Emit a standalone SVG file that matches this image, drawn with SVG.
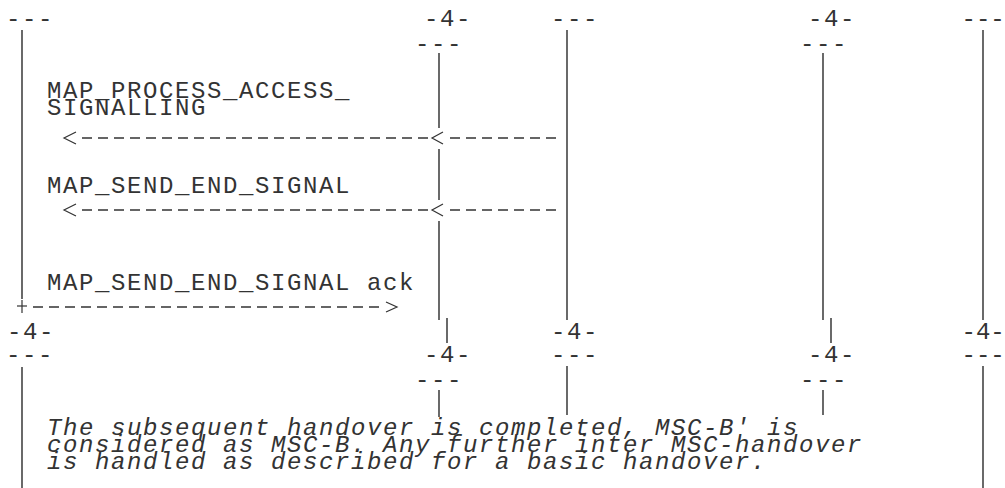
<svg xmlns="http://www.w3.org/2000/svg" width="1005" height="488" viewBox="0 0 1005 488">
<style>
.t{font-family:"Liberation Mono","DejaVu Sans Mono",monospace;font-size:24px;letter-spacing:1.6px;fill:#333333}
.e{letter-spacing:0}
.i{font-style:italic}
.ll{stroke:#2a2a2a;stroke-width:1.4;fill:none}
.dash{stroke:#333333;stroke-width:1.3;stroke-dasharray:10 6;fill:none}
.head{stroke:#333333;stroke-width:1.2;fill:none}
</style>
<rect width="1005" height="488" fill="#ffffff"/>
<g id="col1">
<text class="t" x="6" y="26">---</text>
<line class="ll" x1="22" y1="30" x2="22" y2="299"/>
<text class="t" x="7" y="339">-4-</text>
<text class="t" x="6" y="362">---</text>
<line class="ll" x1="22" y1="367" x2="22" y2="488"/>
</g>
<g id="col2">
<text class="t" x="424" y="26">-4-</text>
<text class="t" x="415" y="51">---</text>
<line class="ll" x1="439" y1="53" x2="439" y2="128"/>
<line class="ll" x1="439" y1="149" x2="439" y2="200"/>
<line class="ll" x1="439" y1="221" x2="439" y2="320"/>
<line class="ll" x1="447" y1="318" x2="447" y2="343"/>
<text class="t" x="424" y="362">-4-</text>
<text class="t" x="415" y="387">---</text>
<line class="ll" x1="439" y1="390" x2="439" y2="417"/>
</g>
<g id="col3">
<text class="t" x="551" y="26">---</text>
<line class="ll" x1="567" y1="30" x2="567" y2="320"/>
<text class="t" x="551" y="339">-4-</text>
<text class="t" x="551" y="362">---</text>
<line class="ll" x1="567" y1="366" x2="567" y2="415"/>
</g>
<g id="col4">
<text class="t" x="808" y="26">-4-</text>
<text class="t" x="800" y="51">---</text>
<line class="ll" x1="823" y1="53" x2="823" y2="320"/>
<line class="ll" x1="831" y1="318" x2="831" y2="343"/>
<text class="t" x="808" y="362">-4-</text>
<text class="t" x="800" y="387">---</text>
<line class="ll" x1="823" y1="390" x2="823" y2="415"/>
</g>
<g id="col5">
<text class="t e" x="961.5" y="26">---</text>
<line class="ll" x1="983" y1="30" x2="983" y2="320"/>
<text class="t e" x="961.5" y="339">-4-</text>
<text class="t e" x="961.5" y="362">---</text>
<line class="ll" x1="983" y1="366" x2="983" y2="488"/>
</g>
<g id="labels">
<text class="t" x="47" y="98">MAP_PROCESS_ACCESS_</text>
<text class="t" x="47" y="115">SIGNALLING</text>
<text class="t" x="47" y="193">MAP_SEND_END_SIGNAL</text>
<text class="t" x="47" y="290">MAP_SEND_END_SIGNAL ack</text>
</g>
<g id="note">
<text class="t i" x="47" y="435">The subsequent handover is completed, MSC-B' is</text>
<text class="t i" x="47" y="452">considered as MSC-B. Any further inter MSC-handover</text>
<text class="t i" x="47" y="469">is handled as described for a basic handover.</text>
</g>
<g id="connectors">
<line class="dash" x1="82" y1="138" x2="428" y2="138"/>
<line class="dash" x1="450" y1="138" x2="556" y2="138"/>
<polyline class="head" points="76,132 64,138 76,144"/>
<polyline class="head" points="443,132 432,138 443,144"/>
<line class="dash" x1="82" y1="210" x2="428" y2="210"/>
<line class="dash" x1="450" y1="210" x2="556" y2="210"/>
<polyline class="head" points="76,204 64,210 76,216"/>
<polyline class="head" points="443,204 432,210 443,216"/>
<line class="head" x1="17" y1="306" x2="27" y2="306"/>
<line class="head" x1="22" y1="300" x2="22" y2="313"/>
<line class="dash" x1="33" y1="307" x2="379" y2="307"/>
<polyline class="head" points="386,302 397,307 386,312"/>
</g>
</svg>
